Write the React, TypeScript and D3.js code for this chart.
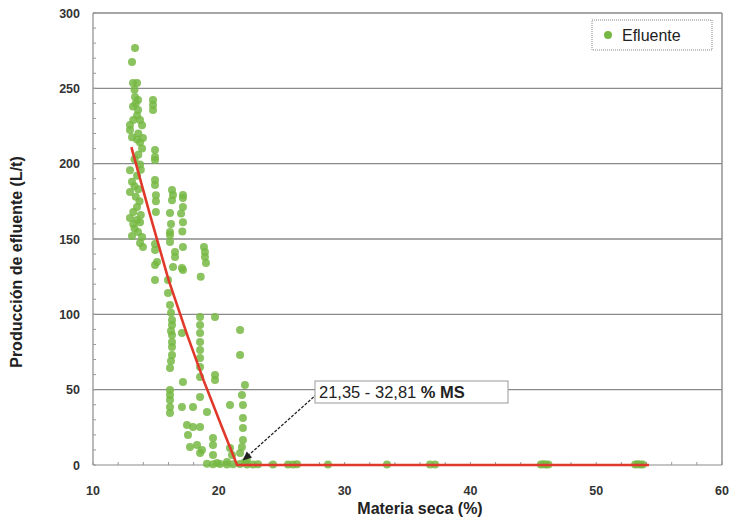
import React from "react";
import * as d3 from "d3";

const xTicks = [10, 20, 30, 40, 50, 60];
const yTicks = [0, 50, 100, 150, 200, 250, 300];
const xLabel = "Materia seca (%)";
const yLabel = "Producción de efluente (L/t)";
const seriesName = "Efluente";

// Efluente observations [materia seca %, L/t]
const efluente: [number, number][] = [
  [13.34, 276.7], [13.1, 267.4], [13.18, 253.5], [13.5, 253.5], [13.3, 249], [13.34, 244.2], [13.58, 242.2],
  [13.18, 238], [13.58, 235.6], [13.5, 232], [13.74, 229], [13.9, 225.5], [12.94, 225.6], [12.94, 222.3],
  [13.1, 217.6], [13.97, 217], [13.5, 216], [13.74, 214], [13.9, 210], [13.6, 206], [13.3, 203],
  [13.74, 199.5], [12.94, 195.7], [13.5, 192], [13.1, 188], [12.94, 181.2], [13.4, 178], [13.7, 175],
  [13.5, 171.2], [13.2, 168], [12.94, 163.9], [13.5, 162.6], [13.74, 161.2], [13.58, 154.6], [13.9, 151.3],
  [13.74, 147.3], [13.97, 144.7], [13.3, 157], [13.1, 152], [13.4, 240], [13.2, 229], [13.6, 220],
  [13.8, 196], [13.3, 185], [13.6, 183], [13.8, 166], [13.2, 160],
  [14.77, 242.2], [14.77, 238.9], [14.77, 235.6], [14.93, 209], [14.93, 204.4], [14.93, 202.4], [14.93, 189.1],
  [14.93, 185.8], [15.0, 179], [15.0, 175], [15.0, 168], [14.93, 146.6], [14.93, 142.7], [14.93, 132.7],
  [14.93, 122.8], [15.09, 134.7],
  [16.28, 182.5], [16.36, 179.2], [17.15, 179.2], [17.15, 177.2], [17.15, 171.2], [17.15, 161.2], [16.12, 167.2],
  [16.12, 154.6], [16.12, 152.6], [16.12, 148], [17.15, 144.7], [16.52, 141.3], [16.52, 138], [17.07, 130.7],
  [17.15, 129.4], [16.36, 131.4], [17.1, 155], [16.28, 175.8], [16.2, 160], [17.0, 167],
  [18.82, 144.7], [18.9, 141.3], [18.9, 138], [18.98, 134], [18.56, 125],
  [15.96, 122.8], [15.96, 114.1], [16.12, 106.2], [16.28, 96.2], [16.28, 92.9], [16.28, 86.3], [16.28, 81.6],
  [16.28, 78.3], [16.28, 73], [16.12, 64.4], [16.12, 49.8], [16.12, 46.4], [16.12, 43.1], [16.12, 38.5],
  [16.12, 34.5], [16.2, 101], [16.2, 89], [16.2, 69], [17.07, 87.6], [17.15, 55.1], [17.07, 38.5],
  [17.95, 38.5], [17.47, 26.5], [17.95, 25.2], [17.55, 19.9], [17.71, 11.9], [18.27, 13.3], [18.66, 10],
  [18.51, 98.2], [18.51, 92.9], [18.51, 87.6], [18.51, 81.6], [18.51, 76.3], [18.51, 71], [18.51, 65],
  [18.51, 58.4], [18.51, 45.1], [18.51, 25.2], [18.51, 8], [19.06, 35.2],
  [19.7, 98.2], [19.7, 59.7], [19.7, 56.4], [19.54, 17.9], [19.54, 13.3], [19.54, 6.6], [19.86, 1.3],
  [20.65, 2], [20.89, 39.8], [20.89, 11.3], [21.05, 6.6],
  [21.69, 89.6], [21.69, 73], [22.08, 53.1], [21.84, 46.4], [21.92, 39.8], [21.92, 31.2], [21.92, 24.6],
  [21.92, 16.6], [21.84, 11.9], [21.69, 8], [22.24, 3.3], [22.08, 2],
  [19.06, 0.8], [19.54, 0.5], [20.1, 0.6], [20.65, 0.4], [21.13, 0.5], [21.69, 0.6], [22.24, 0.3],
  [22.72, 0.4], [23.12, 0.5], [24.31, 0.3], [25.5, 0.4], [25.9, 0.3], [26.22, 0.5], [28.68, 0.3],
  [33.37, 0.4], [36.79, 0.3], [37.19, 0.4], [45.6, 0.3], [45.8, 0.5], [46.0, 0.3], [46.2, 0.4],
  [53.1, 0.3], [53.3, 0.5], [53.5, 0.3], [53.7, 0.4],
];

// fitted line (broken-line model)
const fitLine: [number, number][] = [
  [13.05, 211], [14.5, 167], [16.0, 123], [17.5, 86], [18.8, 56], [20.3, 24], [21.45, 0], [54.2, 0],
];

const annotationText = "21,35 - 32,81 ";
const annotationBold = "% MS";
const annotationTarget: [number, number] = [21.9, 3];

const W = 731;
const H = 521;
const M = { left: 93, right: 722, top: 13, bottom: 465 };
const FONT = "Liberation Sans, Arial, sans-serif";

export default function App() {
  const x = d3.scaleLinear().domain([10, 60]).range([M.left, M.right]);
  const y = d3.scaleLinear().domain([0, 300]).range([M.bottom, M.top]);
  const line = d3.line<[number, number]>().x((d) => x(d[0])).y((d) => y(d[1]));

  const yMinor = d3.range(0, 301, 10);
  const xMinor = d3.range(10, 61, 2);

  const tx = x(annotationTarget[0]);
  const ty = y(annotationTarget[1]);
  const boxX = 315, boxY = 381, boxW = 193, boxH = 22;
  const sx = 317, sy = 394;
  const ang = Math.atan2(ty - sy, tx - sx);
  const ah = 9, aw = 4;
  const bx = tx - ah * Math.cos(ang), by = ty - ah * Math.sin(ang);
  const arrowHead = `M${tx},${ty} L${bx + aw * Math.sin(ang)},${by - aw * Math.cos(ang)} L${bx - aw * Math.sin(ang)},${by + aw * Math.cos(ang)} Z`;

  return (
    <svg width={W} height={H} style={{ position: "absolute", left: 0, top: 0, background: "#fff" }} fontFamily={FONT}>
      <rect x={0} y={0} width={W} height={H} fill="#fff" />
      {yTicks.filter((t) => t > 0).map((t) => (
        <line key={"g" + t} x1={M.left} x2={M.right} y1={y(t)} y2={y(t)} stroke="#8a8a8a" strokeWidth={1.4} />
      ))}
      <line x1={M.left} x2={M.left} y1={M.top} y2={M.bottom} stroke="#8a8a8a" strokeWidth={1.2} />
      <line x1={M.right} x2={M.right} y1={M.top} y2={M.bottom} stroke="#8a8a8a" strokeWidth={1.4} />
      <line x1={M.left} x2={M.right} y1={M.bottom} y2={M.bottom} stroke="#8a8a8a" strokeWidth={1.2} />
      {yMinor.map((t) => (
        <line key={"ym" + t} x1={M.left} x2={M.left + 3} y1={y(t)} y2={y(t)} stroke="#999" strokeWidth={1} />
      ))}
      {xMinor.map((t) => (
        <line key={"xm" + t} x1={x(t)} x2={x(t)} y1={M.bottom} y2={M.bottom - 3} stroke="#999" strokeWidth={1} />
      ))}
      {yTicks.map((t) => (
        <text key={"yl" + t} x={80} y={y(t) + 4.5} textAnchor="end" fontSize={12.5} fontWeight="bold" fill="#333">{t}</text>
      ))}
      {xTicks.map((t) => (
        <text key={"xl" + t} x={x(t)} y={495} textAnchor="middle" fontSize={12.5} fontWeight="bold" fill="#333">{t}</text>
      ))}
      {efluente.map((d, i) => (
        <circle key={"p" + i} cx={x(d[0])} cy={y(d[1])} r={4} fill="#76b843" fillOpacity={0.85} />
      ))}
      <path d={line(fitLine) || ""} fill="none" stroke="#e0392b" strokeWidth={2.6} />
      <line x1={sx} y1={sy} x2={bx} y2={by} stroke="#222" strokeWidth={1.2} strokeDasharray="3,1.5" />
      <path d={arrowHead} fill="#222" />
      <rect x={boxX} y={boxY} width={boxW} height={boxH} fill="#fff" stroke="#999" strokeWidth={1} />
      <text x={boxX + 4} y={boxY + 17} fontSize={16.5} fill="#222">
        {annotationText}
        <tspan fontWeight="bold">{annotationBold}</tspan>
      </text>
      <rect x={592} y={20} width={120} height={30} fill="#fff" stroke="#888" strokeWidth={1} strokeDasharray="1,1" />
      <circle cx={608} cy={35} r={4} fill="#76b843" />
      <text x={622} y={41} fontSize={16} fill="#222">{seriesName}</text>
      <text x={420} y={514} textAnchor="middle" fontSize={16} fontWeight="bold" fill="#222">{xLabel}</text>
      <text transform={`translate(22,262) rotate(-90)`} textAnchor="middle" fontSize={16} fontWeight="bold" fill="#222">{yLabel}</text>
    </svg>
  );
}
